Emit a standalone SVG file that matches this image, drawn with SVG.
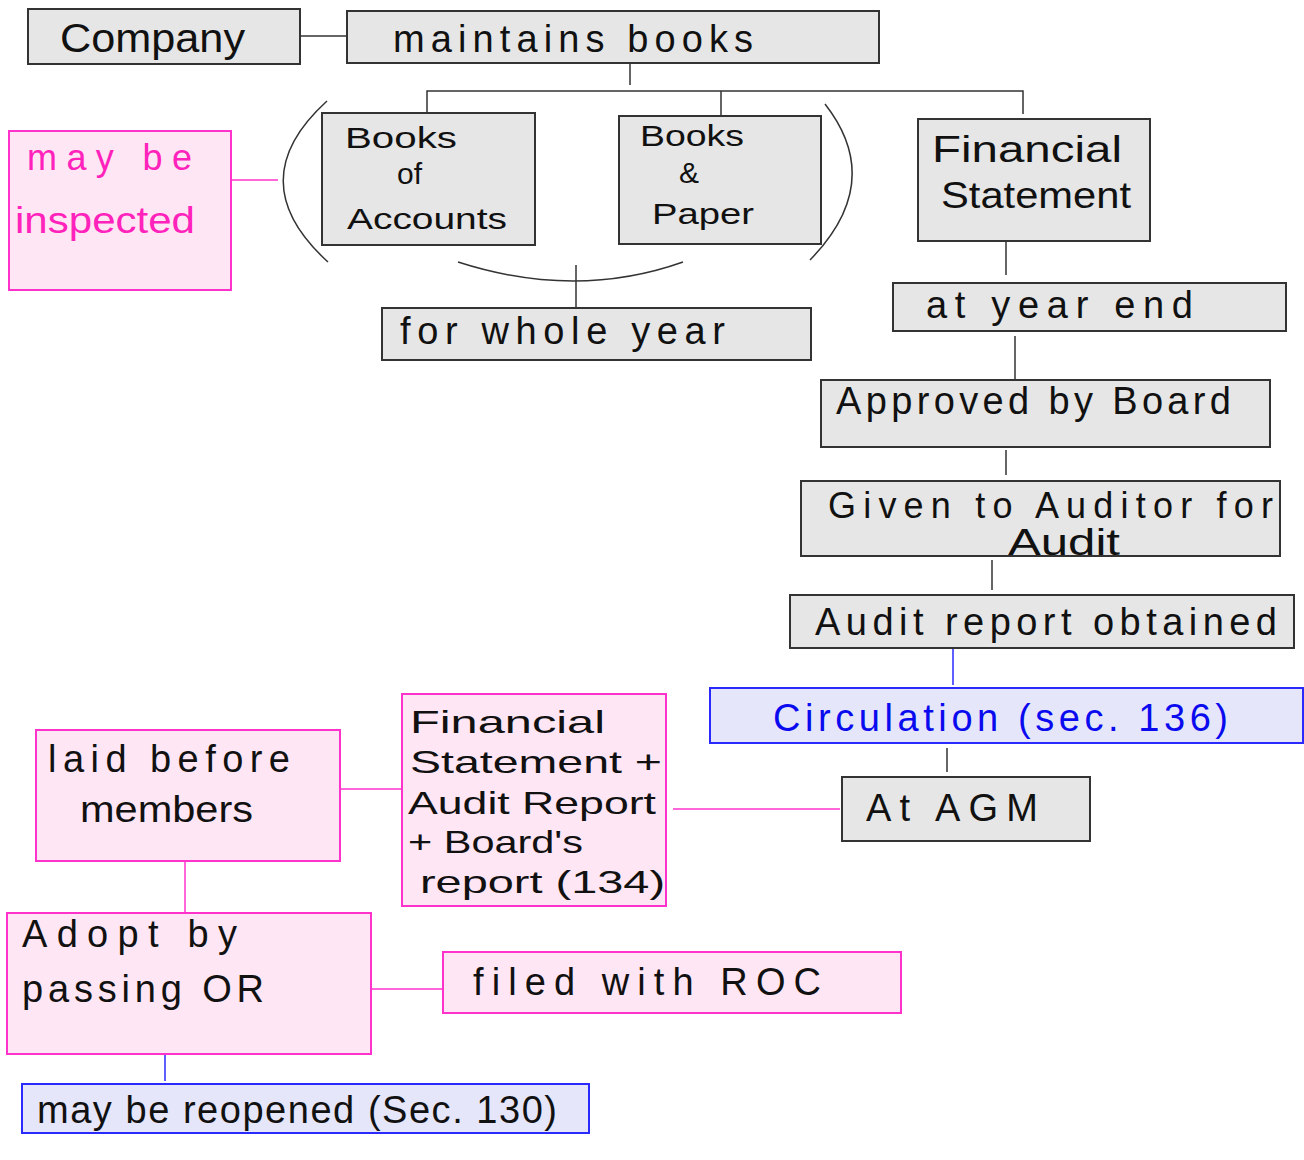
<svg xmlns="http://www.w3.org/2000/svg" width="1304" height="1160" viewBox="0 0 1304 1160">
<style>
.g{fill:#e6e6e6;stroke:#333;stroke-width:2}
.p{fill:#ffe6f4;stroke:#ff33cc;stroke-width:2}
.b{fill:#e6e6fa;stroke:#2a2aff;stroke-width:2}
text{font-family:"Liberation Sans","DejaVu Sans",sans-serif;font-size:36px;fill:#111}
.s{font-size:30px}
.m{font-size:32px}
.pt{fill:#ff22bb}
.bt{fill:#0a0aee}
.c{fill:none;stroke:#333;stroke-width:1.5}
.cp{fill:none;stroke:#ff33cc;stroke-width:1.5}
.cb{fill:none;stroke:#2a2aff;stroke-width:1.5}
</style>
<rect width="1304" height="1160" fill="#fff"/>
<g id="connectors">
<path class="c" d="M300 36H347"/>
<path class="c" d="M630 63V85M427 113V91H1023V114M721 91V116"/>
<path class="c" d="M327 101Q239 181 328 262"/>
<path class="c" d="M825 104Q886 182 810 260"/>
<path class="c" d="M458 262Q576 300 683 262"/>
<path class="c" d="M576 265V308"/>
<path class="cp" d="M231 180H278"/>
<path class="c" d="M1006 241V275"/>
<path class="c" d="M1015 336V379"/>
<path class="c" d="M1006 450V475"/>
<path class="c" d="M992 560V590"/>
<path class="cb" d="M953 648V685"/>
<path class="c" d="M947 748V772"/>
<path class="cp" d="M673 809H840"/>
<path class="cp" d="M340 789H402"/>
<path class="cp" d="M185 861V913"/>
<path class="cp" d="M371 989H443"/>
<path class="cb" d="M165 1054V1081"/>
</g>
<g id="company"><rect class="g" x="28" y="9" width="272" height="55"/><text x="60" y="52" textLength="185" lengthAdjust="spacingAndGlyphs" style="font-size:40px">Company</text></g>
<g id="maintains"><rect class="g" x="347" y="11" width="532" height="52"/><text x="393" y="52" textLength="360" lengthAdjust="spacing" style="font-size:38px">maintains books</text></g>
<g id="books-accounts"><rect class="g" x="322" y="113" width="213" height="132"/>
<text class="s" x="345" y="148" textLength="112" lengthAdjust="spacingAndGlyphs">Books</text>
<text class="s" x="397" y="184">of</text>
<text class="s" x="347" y="229" textLength="160" lengthAdjust="spacingAndGlyphs">Accounts</text></g>
<g id="books-paper"><rect class="g" x="619" y="116" width="202" height="128"/>
<text class="s" x="640" y="146" textLength="104" lengthAdjust="spacingAndGlyphs">Books</text>
<text class="s" x="679" y="183">&amp;</text>
<text class="s" x="652" y="224" textLength="102" lengthAdjust="spacingAndGlyphs">Paper</text></g>
<g id="financial-statement"><rect class="g" x="918" y="119" width="232" height="122"/>
<text x="932" y="162" textLength="190" lengthAdjust="spacingAndGlyphs">Financial</text>
<text x="941" y="208" textLength="190" lengthAdjust="spacingAndGlyphs">Statement</text></g>
<g id="inspected"><rect class="p" x="9" y="131" width="222" height="159"/>
<text class="pt" x="27" y="170" textLength="165" lengthAdjust="spacing">may be</text>
<text class="pt" x="15" y="233" textLength="180" lengthAdjust="spacingAndGlyphs">inspected</text></g>
<g id="whole-year"><rect class="g" x="382" y="308" width="429" height="52"/><text x="400" y="344" textLength="325" lengthAdjust="spacing" style="font-size:38px">for whole year</text></g>
<g id="year-end"><rect class="g" x="893" y="283" width="393" height="48"/><text x="926" y="318" textLength="267" lengthAdjust="spacing" style="font-size:38px">at year end</text></g>
<g id="approved"><rect class="g" x="821" y="380" width="449" height="67"/><text x="836" y="414" textLength="395" lengthAdjust="spacing" style="font-size:38px">Approved by Board</text></g>
<g id="given"><rect class="g" x="801" y="481" width="479" height="75"/>
<text x="828" y="518" textLength="445" lengthAdjust="spacing">Given to Auditor for</text>
<text x="1008" y="555" textLength="112" lengthAdjust="spacingAndGlyphs">Audit</text></g>
<g id="audit-report"><rect class="g" x="790" y="595" width="504" height="53"/><text x="815" y="635" textLength="462" lengthAdjust="spacing" style="font-size:38px">Audit report obtained</text></g>
<g id="circulation"><rect class="b" x="710" y="688" width="593" height="55"/><text class="bt" x="773" y="731" textLength="455" lengthAdjust="spacing" style="font-size:38px">Circulation (sec. 136)</text></g>
<g id="agm"><rect class="g" x="842" y="777" width="248" height="64"/><text x="866" y="821" textLength="172" lengthAdjust="spacing" style="font-size:38px">At AGM</text></g>
<g id="fs-reports"><rect class="p" x="402" y="694" width="264" height="212"/>
<text class="m" x="410" y="733" textLength="195" lengthAdjust="spacingAndGlyphs">Financial</text>
<text class="m" x="410" y="773" textLength="252" lengthAdjust="spacingAndGlyphs">Statement +</text>
<text class="m" x="408" y="814" textLength="248" lengthAdjust="spacingAndGlyphs">Audit Report</text>
<text class="m" x="408" y="853" textLength="175" lengthAdjust="spacingAndGlyphs">+ Board's</text>
<text class="m" x="420" y="893" textLength="245" lengthAdjust="spacingAndGlyphs">report (134)</text></g>
<g id="laid"><rect class="p" x="36" y="730" width="304" height="131"/>
<text x="48" y="772" textLength="242" lengthAdjust="spacing" style="font-size:38px">laid before</text>
<text x="80" y="822" textLength="173" lengthAdjust="spacingAndGlyphs">members</text></g>
<g id="adopt"><rect class="p" x="7" y="913" width="364" height="141"/>
<text x="22" y="947" textLength="215" lengthAdjust="spacing" style="font-size:38px">Adopt by</text>
<text x="22" y="1002" textLength="242" lengthAdjust="spacing" style="font-size:38px">passing OR</text></g>
<g id="roc"><rect class="p" x="443" y="952" width="458" height="61"/><text x="473" y="995" textLength="348" lengthAdjust="spacing" style="font-size:38px">filed with ROC</text></g>
<g id="reopened"><rect class="b" x="22" y="1084" width="567" height="49"/><text x="37" y="1123" textLength="520" lengthAdjust="spacing" style="font-size:38px">may be reopened (Sec. 130)</text></g>
</svg>
